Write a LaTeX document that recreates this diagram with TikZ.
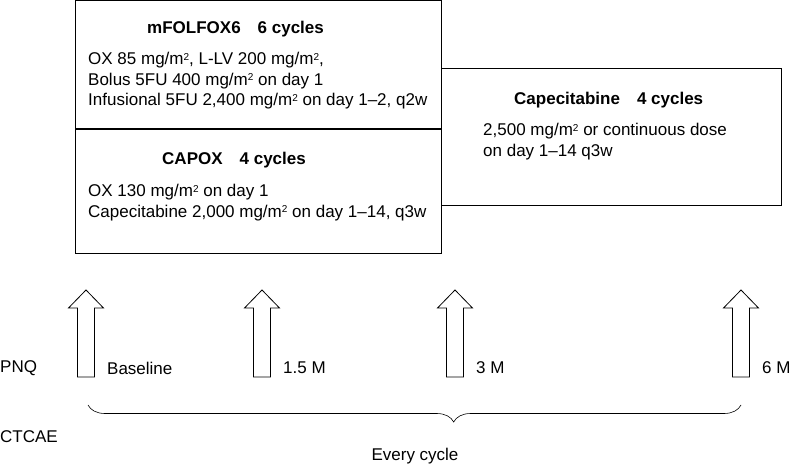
\documentclass[tikz,border=0pt]{standalone}
\usepackage{fontspec}
\setmainfont{Liberation Sans}
\usetikzlibrary{decorations.pathreplacing}
\newcommand{\sq}{\raisebox{0.5ex}{\fontsize{10}{10}\selectfont 2}}
\begin{document}
\begin{tikzpicture}[x=1pt,y=-1pt,font=\fontsize{17}{20.5}\selectfont,
  box/.style={draw,line width=0.6pt},
  txt/.style={anchor=north west,inner sep=0pt,align=left},
  bigarrow/.style={draw,line width=0.8pt,fill=white}]
\useasboundingbox (0,0) rectangle (797,468);
\node[box,minimum width=340,minimum height=137,anchor=north west] (cap) at (441,68) {};
\node[box,fill=white,minimum width=366,minimum height=253,anchor=north west] (left) at (75,0) {};
\draw[line width=1.6pt] (left.west |- 0,129) coordinate (d1) -- (left.east |- 0,129) coordinate (d2);
\node[txt,font=\fontsize{17}{20}\selectfont\bfseries] (t1) at (147,21) {mFOLFOX6\quad 6 cycles};
\node[txt] (t2) at (88,52) {OX 85 mg/m\sq, L-LV 200 mg/m\sq,\\Bolus 5FU 400 mg/m\sq\ on day 1\\Infusional 5FU 2,400 mg/m\sq\ on day 1–2, q2w};
\node[txt,font=\fontsize{17}{20}\selectfont\bfseries] (t3) at (162,152) {CAPOX\quad 4 cycles};
\node[txt] (t4) at (88,184) {OX 130 mg/m\sq\ on day 1\\Capecitabine 2,000 mg/m\sq\ on day 1–14, q3w};
\node[txt,font=\fontsize{17}{20}\selectfont\bfseries] (t5) at (514,92) {Capecitabine\quad 4 cycles};
\node[txt] (t6) at (483,123) {2,500 mg/m\sq\ or continuous dose\\on day 1–14 q3w};
\foreach \x/\n/\lab in {86/a1/Baseline,262/a2/1.5 M,455/a3/3 M,741/a4/6 M}{
  \draw[bigarrow] (\x-8.5,377) -- (\x-8.5,308) -- (\x-17.5,308) -- (\x,290) coordinate (\n) -- (\x+17.5,308) -- (\x+8.5,308) -- (\x+8.5,377) -- cycle;
  \node[anchor=west,inner sep=0pt] at (\x+21,368) {\lab};
}
\node[anchor=west,inner sep=0pt] (pnq) at (0,368) {PNQ};
\node[anchor=west,inner sep=0pt] (ct) at (0,437) {CTCAE};
\coordinate (b1) at (88,405);
\coordinate (b2) at (741,405);
\draw[line width=0.6pt,decorate,decoration={brace,mirror,amplitude=17pt,aspect=0.56}] (b1) -- (b2);
\node[inner sep=0pt] (ev) at (415,456) {Every cycle};
\end{tikzpicture}
\end{document}
